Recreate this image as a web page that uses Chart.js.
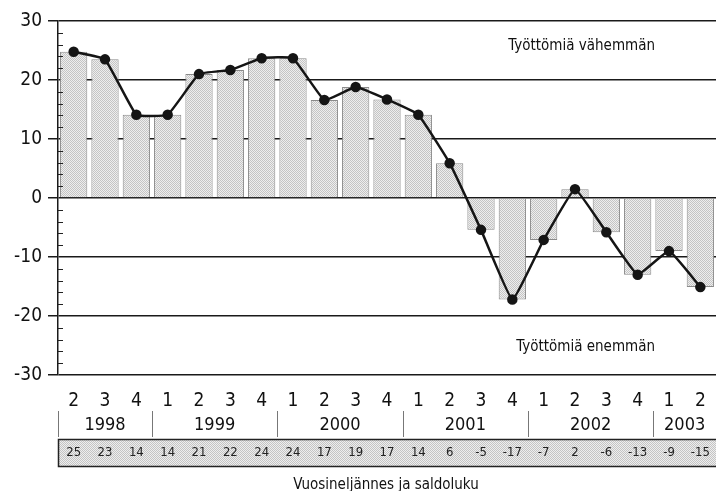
<!DOCTYPE html>
<html>
<head>
<meta charset="utf-8">
<script src="https://cdn.jsdelivr.net/npm/chart.js@4.4.1/dist/chart.umd.min.js"></script>
<style>
    html, body { margin: 0; background: #fff; }
</style>
</head>
<body>
<canvas id="chart" width="716" height="491"></canvas>
<script>
// Quarters 1998 Q2 .. 2003 Q2
const quarters = ["2", "3", "4", "1", "2", "3", "4", "1", "2", "3", "4", "1", "2", "3", "4", "1", "2", "3", "4", "1", "2"];
const years = ["1998", "1999", "2000", "2001", "2002", "2003"];
const yearSpans = [3, 4, 4, 4, 4, 2];
const saldo = [25, 23, 14, 14, 21, 22, 24, 24, 17, 19, 17, 14, 6, -5, -17, -7, 2, -6, -13, -9, -15];
const values = [24.8, 23.5, 14.1, 14.1, 21, 21.7, 23.7, 23.7, 16.6, 18.8, 16.7, 14.1, 5.9, -5.4, -17.2, -7.1, 1.5, -5.8, -13, -9, -15.1];

const FONT = "'DejaVu Sans Condensed', 'Liberation Sans Narrow', 'Arial Narrow', sans-serif";

// stipple fill like the printed original
function stipple() {
    const c = document.createElement("canvas");
    c.width = 2;
    c.height = 2;
    const g = c.getContext("2d");
    g.fillStyle = "#eeeeee";
    g.fillRect(0, 0, 2, 2);
    g.fillStyle = "#c4c4c4";
    g.fillRect(0, 0, 1, 1);
    g.fillRect(1, 1, 1, 1);
    return g.createPattern(c, "repeat");
}
const dots = stipple();

const extras = {
    id: "extras",
    afterDraw(chart) {
        const ctx = chart.ctx;
        const x = chart.scales.x;
        const y = chart.scales.y;
        const area = chart.chartArea;
        const step = x.getPixelForValue(1) - x.getPixelForValue(0);
        ctx.save();

        // minor ticks inside the y axis
        ctx.strokeStyle = "#222";
        ctx.lineWidth = 1;
        for (let v = -28; v < 30; v += 2) {
            if (v % 10 === 0) continue;
            const py = Math.round(y.getPixelForValue(v)) + 0.5;
            ctx.beginPath();
            ctx.moveTo(area.left, py);
            ctx.lineTo(area.left + 5, py);
            ctx.stroke();
        }

        // annotations
        ctx.fillStyle = "#111";
        ctx.font = "15px " + FONT;
        ctx.textAlign = "right";
        ctx.textBaseline = "middle";
        ctx.fillText("Työttömiä vähemmän", 655, 46);
        ctx.fillText("Työttömiä enemmän", 655, 347);

        // year row
        ctx.textAlign = "center";
        ctx.font = "18px " + FONT;
        let start = 0;
        years.forEach((yr, i) => {
            const left = x.getPixelForValue(start) - step / 2;
            const right = x.getPixelForValue(start + yearSpans[i] - 1) + step / 2;
            ctx.strokeStyle = "#777";
            ctx.lineWidth = 1;
            ctx.beginPath();
            ctx.moveTo(Math.round(left) + 0.5, 411);
            ctx.lineTo(Math.round(left) + 0.5, 437);
            ctx.stroke();
            ctx.fillStyle = "#111";
            ctx.fillText(yr, (left + Math.min(right, 716)) / 2, 425);
            start += yearSpans[i];
        });

        // saldo box
        ctx.fillStyle = dots;
        ctx.fillRect(area.left, 439, area.right - area.left, 28);
        ctx.strokeStyle = "#222";
        ctx.lineWidth = 1.5;
        ctx.beginPath();
        ctx.moveTo(area.right, 439.5);
        ctx.lineTo(area.left + 0.5, 439.5);
        ctx.lineTo(area.left + 0.5, 466.5);
        ctx.lineTo(area.right, 466.5);
        ctx.stroke();
        ctx.fillStyle = "#222";
        ctx.font = "13px " + FONT;
        saldo.forEach((s, i) => {
            ctx.fillText(String(s), x.getPixelForValue(i), 453);
        });

        // axis title
        ctx.font = "15px " + FONT;
        ctx.fillStyle = "#111";
        ctx.fillText("Vuosineljännes ja saldoluku", 386, 485);
        ctx.restore();
    },
};

new Chart(document.getElementById("chart"), {
    type: "bar",
    data: {
        labels: quarters,
        datasets: [
            {
                type: "line",
                data: values,
                borderColor: "#151515",
                borderWidth: 2.5,
                pointRadius: 4,
                pointBackgroundColor: "#151515",
                pointBorderColor: "#151515",
                tension: 0.1,
                clip: false,
                order: 0,
            },
            {
                data: values,
                backgroundColor: dots,
                borderColor: "#8a8a8a",
                borderWidth: 1,
                barPercentage: 0.87,
                categoryPercentage: 1,
                order: 1,
            },
        ],
    },
    options: {
        responsive: false,
        animation: false,
        layout: {
            autoPadding: false,
            padding: { top: 21, right: -4, left: 0, bottom: 0 },
        },
        plugins: {
            legend: { display: false },
            tooltip: { enabled: false },
        },
        scales: {
            x: {
                grid: { display: false },
                border: { display: false },
                ticks: {
                    color: "#111",
                    font: { family: FONT, size: 19 },
                    padding: 7,
                    maxRotation: 0,
                },
                afterFit(scale) {
                    scale.height = 116;
                    scale.paddingLeft = 0;
                    scale.paddingRight = 0;
                },
            },
            y: {
                min: -30,
                max: 30,
                ticks: {
                    stepSize: 10,
                    color: "#111",
                    font: { family: FONT, size: 19 },
                    padding: 6,
                },
                grid: {
                    color: "#1a1a1a",
                    lineWidth: 1.5,
                    tickLength: 10,
                },
                border: { color: "#1a1a1a", width: 1.5 },
                afterFit(scale) {
                    scale.width = 58;
                },
            },
        },
    },
    plugins: [extras],
});
</script>
</body>
</html>
